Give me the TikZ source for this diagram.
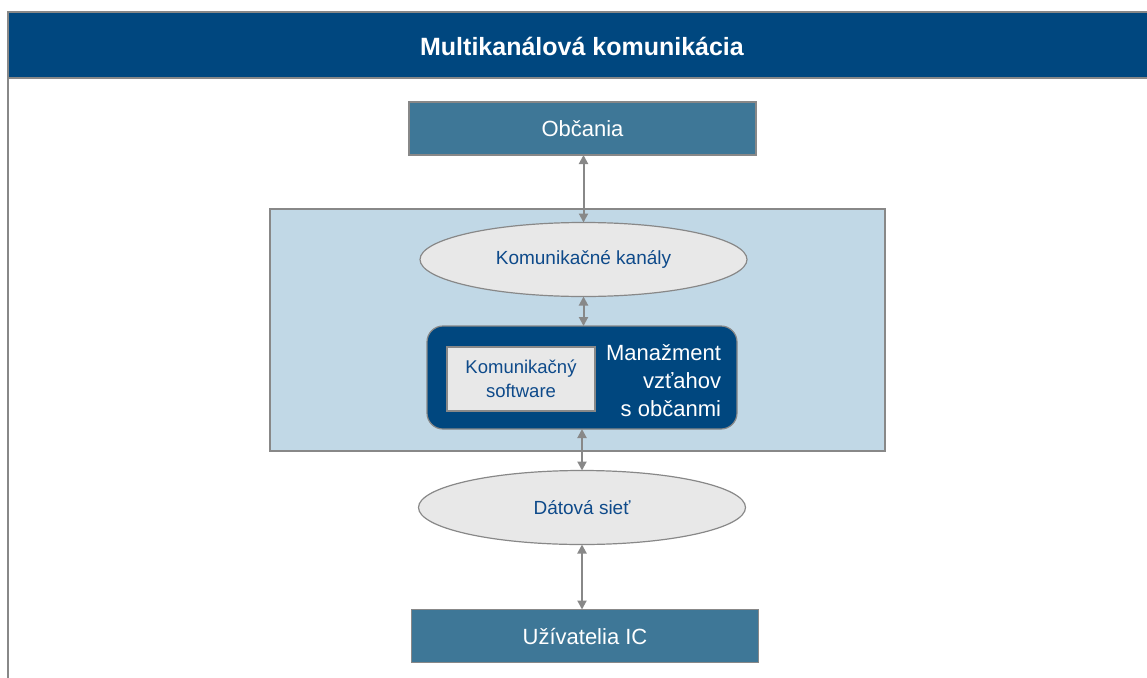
\documentclass[tikz,border=0pt]{standalone}
\usepackage{fontspec}
\setmainfont{Liberation Sans}
\usetikzlibrary{arrows.meta,shapes.geometric}
\definecolor{navy}{HTML}{00477F}
\definecolor{steel}{HTML}{3E7797}
\definecolor{paleblue}{HTML}{C1D8E6}
\definecolor{lightgrey}{HTML}{E8E8E8}
\definecolor{edge}{HTML}{888888}
\definecolor{inktext}{HTML}{0E4A8A}
\tikzset{
  x=1pt, y=-1pt,
  every node/.style={inner sep=0pt, outer sep=0pt},
  endbox/.style={rectangle, fill=steel, draw=edge, line width=1.2pt,
    minimum width=347pt, minimum height=53pt, text=white, font=\fontsize{22}{26}\selectfont},
  channel/.style={ellipse, fill=lightgrey, draw=edge, line width=1.2pt,
    minimum width=327pt, minimum height=74pt, text=inktext, font=\fontsize{19}{23}\selectfont},
  link/.style={draw=edge, line width=2pt, {Triangle[length=9pt,width=9pt]}-{Triangle[length=9pt,width=9pt]}},
}
\begin{document}
\begin{tikzpicture}
\useasboundingbox (0,0) rectangle (1147,677);
% frame and title band
\draw[edge, line width=1.2pt] (8,78) -- (8,690);
\node[rectangle, fill=navy, draw=edge, line width=1.2pt, minimum width=1150pt, minimum height=66pt,
  anchor=north west, text=white] (band) at (8,12) {};
\node[text=white, font=\bfseries\fontsize{25}{30}\selectfont] (title) at (582,46) {Multikanálová komunikácia};
% light-blue system area
\node[rectangle, fill=paleblue, draw=edge, line width=1.2pt, minimum width=615pt, minimum height=242pt,
  anchor=north west] (area) at (270,209) {};
% nodes
\node[endbox] (citizens) at (582.5,128.5) {Občania};
\node[channel] (channels) at (583.5,259.5) {Komunikačné kanály};
\node[rectangle, rounded corners=16pt, fill=navy, draw=edge, line width=1.2pt,
  minimum width=310pt, minimum height=103pt] (crm) at (582,377.5) {};
\node[rectangle, fill=lightgrey, draw=edge, line width=1.2pt, minimum width=148pt, minimum height=64pt,
  text=inktext, align=center, font=\fontsize{18.5}{24}\selectfont] (software) at (521,379) {Komunikačný\\software};
\node[text=white, align=right, anchor=east, font=\fontsize{22}{28}\selectfont] (crmlabel) at (721,381)
  {Manažment\\vzťahov\\s občanmi};
\node[channel] (network) at (582,507.5) {Dátová sieť};
\node[endbox] (users) at (585,636) {Užívatelia IC};
% connectors
\draw[link] (citizens.south -| channels.north) -- (channels.north);
\draw[link] (channels.south) -- (channels.south |- crm.north);
\draw[link] (crm.south) -- (crm.south |- network.north);
\draw[link] (network.south) -- (network.south |- users.north);
\end{tikzpicture}
\end{document}
